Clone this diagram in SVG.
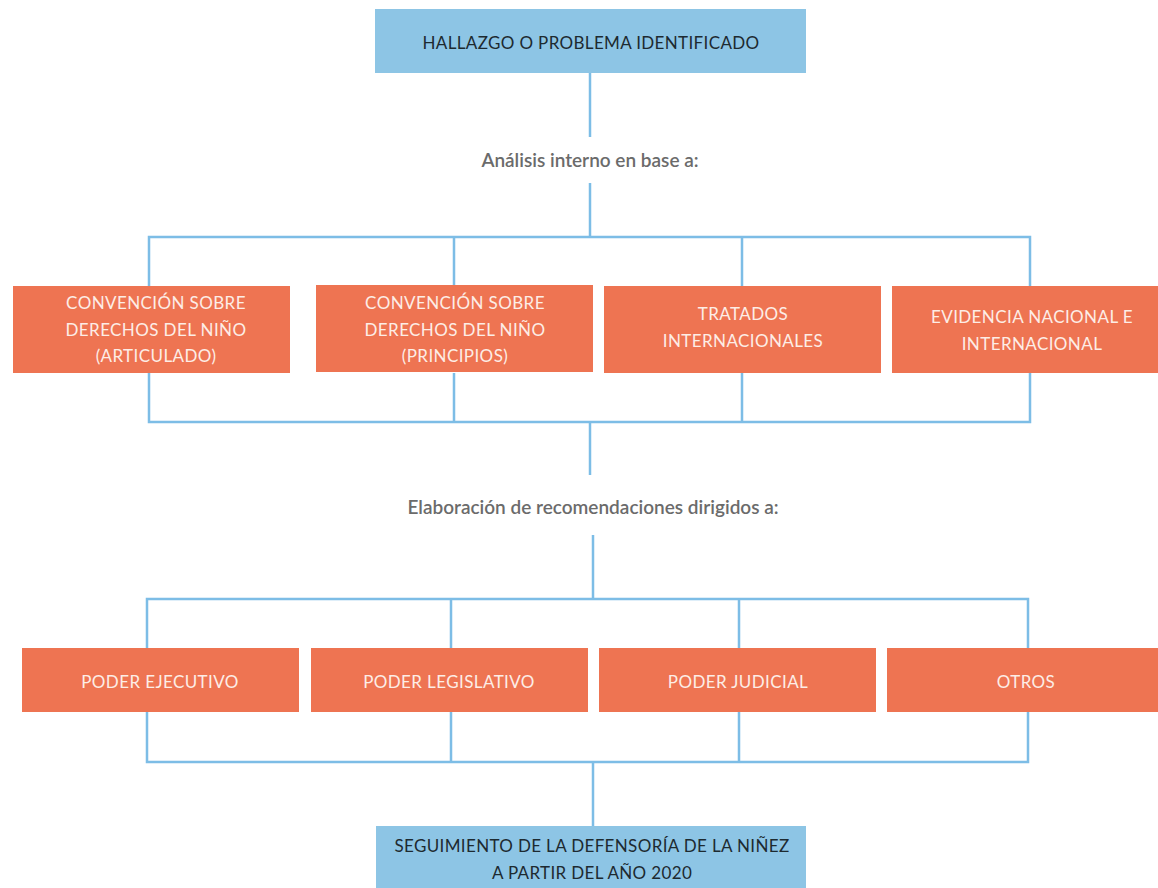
<svg xmlns="http://www.w3.org/2000/svg" width="1158" height="888" viewBox="0 0 1158 888">
<style>
.blue{fill:#8DC5E5}
.org{fill:#EE7452}
.dk{font-family:Lato,"Open Sans",sans-serif;font-size:17px;fill:#1d2a30;text-anchor:middle;letter-spacing:0.35px}
.wt{font-family:Lato,"Open Sans",sans-serif;font-size:17px;fill:#FDEDE6;text-anchor:middle;letter-spacing:0.4px}
.lbl{font-family:Lato,"Open Sans",sans-serif;font-size:19px;fill:#6b6b6b;text-anchor:middle;font-weight:600}
.ln{stroke:#7DBDE6;stroke-width:2.5;fill:none}
</style>
<rect width="1158" height="888" fill="#ffffff"/>
<g id="connectors">
<path class="ln" d="M590,73 V137"/>
<path class="ln" d="M590,183 V237"/>
<path class="ln" d="M149,287 V237 H1030 V287 M454,237 V287 M742,237 V287"/>
<path class="ln" d="M149,373 V422 H1030 V373 M454,373 V422 M742,373 V422"/>
<path class="ln" d="M590,422 V475"/>
<path class="ln" d="M593,535 V599"/>
<path class="ln" d="M147,648 V599 H1028 V648 M451,599 V648 M739,599 V648"/>
<path class="ln" d="M147,712 V762 H1028 V712 M451,712 V762 M739,712 V762"/>
<path class="ln" d="M593,762 V826"/>
</g>
<g id="top">
<rect class="blue" x="375" y="9" width="431" height="64"/>
<text class="dk" x="591" y="49">HALLAZGO O PROBLEMA IDENTIFICADO</text>
</g>
<g id="label1"><text class="lbl" x="590" y="167">Análisis interno en base a:</text></g>
<g id="n1">
<rect class="org" x="13" y="286" width="277" height="87"/>
<text class="wt" x="156" y="309">CONVENCIÓN SOBRE</text>
<text class="wt" x="156" y="336">DERECHOS DEL NIÑO</text>
<text class="wt" x="156" y="362">(ARTICULADO)</text>
</g>
<g id="n2">
<rect class="org" x="316" y="285" width="277" height="87"/>
<text class="wt" x="455" y="309">CONVENCIÓN SOBRE</text>
<text class="wt" x="455" y="336">DERECHOS DEL NIÑO</text>
<text class="wt" x="455" y="362">(PRINCIPIOS)</text>
</g>
<g id="n3">
<rect class="org" x="604" y="286" width="277" height="87"/>
<text class="wt" x="743" y="320">TRATADOS</text>
<text class="wt" x="743" y="347">INTERNACIONALES</text>
</g>
<g id="n4">
<rect class="org" x="892" y="286" width="266" height="87"/>
<text class="wt" x="1032" y="323">EVIDENCIA NACIONAL E</text>
<text class="wt" x="1032" y="350">INTERNACIONAL</text>
</g>
<g id="label2"><text class="lbl" x="593" y="514">Elaboración de recomendaciones dirigidos a:</text></g>
<g id="m1">
<rect class="org" x="22" y="648" width="277" height="64"/>
<text class="wt" x="160" y="688">PODER EJECUTIVO</text>
</g>
<g id="m2">
<rect class="org" x="311" y="648" width="277" height="64"/>
<text class="wt" x="449" y="688">PODER LEGISLATIVO</text>
</g>
<g id="m3">
<rect class="org" x="599" y="648" width="277" height="64"/>
<text class="wt" x="738" y="688">PODER JUDICIAL</text>
</g>
<g id="m4">
<rect class="org" x="887" y="648" width="271" height="64"/>
<text class="wt" x="1026" y="688">OTROS</text>
</g>
<g id="bottom">
<rect class="blue" x="376" y="826" width="430" height="62"/>
<text class="dk" x="592" y="852">SEGUIMIENTO DE LA DEFENSORÍA DE LA NIÑEZ</text>
<text class="dk" x="592" y="879">A PARTIR DEL AÑO 2020</text>
</g>
</svg>
